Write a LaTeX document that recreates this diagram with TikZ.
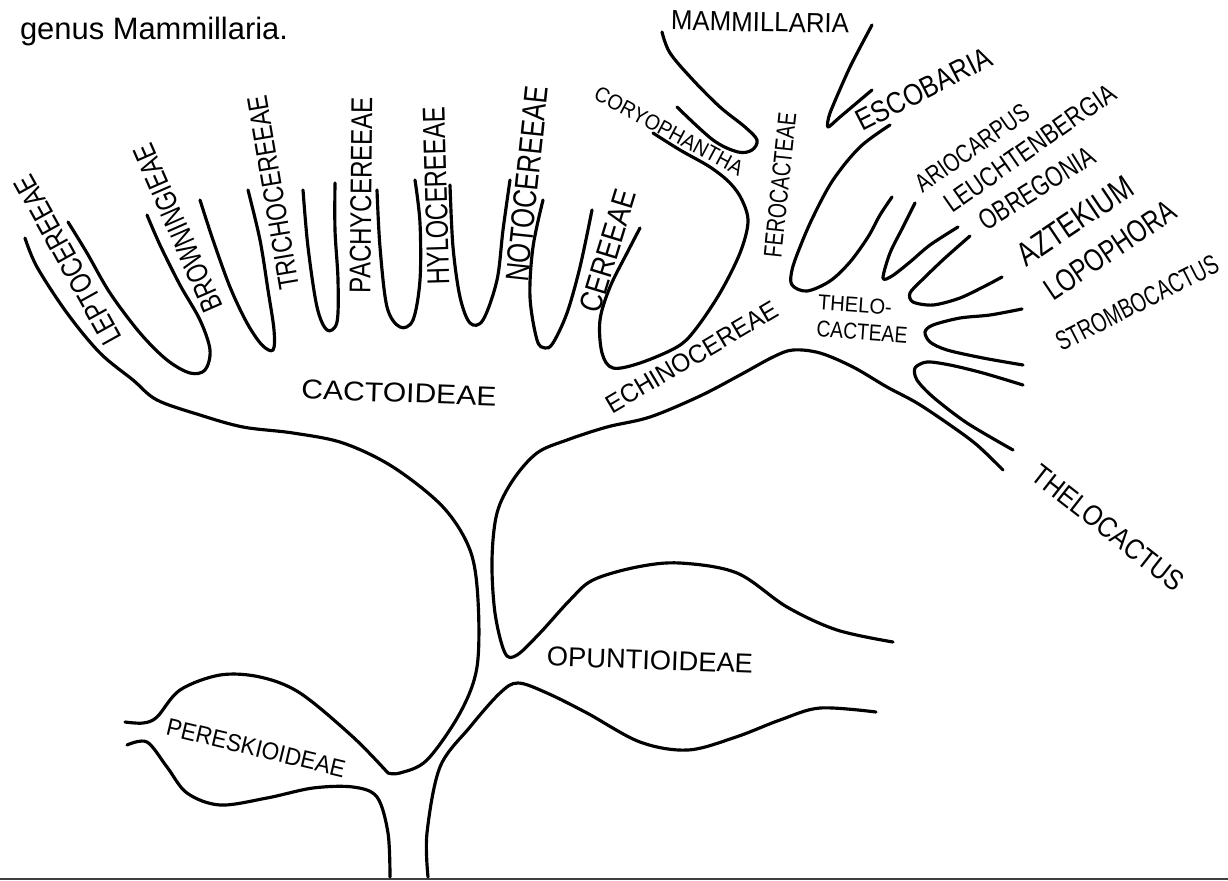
\documentclass[tikz,border=0pt]{standalone}
\usepackage{fontspec}
\setmainfont{Liberation Sans}
\usepackage{graphicx}
\newlength{\pxu}\setlength{\pxu}{0.02cm}
\newcommand{\hw}[3]{\resizebox{#1\pxu}{#2\pxu}{#3}}
\begin{document}
\begin{tikzpicture}[x=0.02cm,y=-0.02cm,
  br/.style={draw=black,line width=1.8pt,line cap=round,line join=round},
  lab/.style={inner sep=0pt,outer sep=0pt,text=black}]
\useasboundingbox (0,0) rectangle (1228,880);
\fill[white] (0,0) rectangle (1228,880);
% bottom rule
\draw[black!75,line width=1.3pt] (0,879) -- (1228,879);
% caption
\node[lab,anchor=base west,font=\fontsize{17.6pt}{20pt}\selectfont] (cap) at (20,39) {genus Mammillaria.};

% ---------- branches ----------
% Cactoideae lower edge down to Pereskioideae fork
\draw[br] plot[smooth,tension=0.55] coordinates {(25,238) (37,267) (67,313) (100,353) (133,380) (157,400) (200,415) (243,427) (293,433) (343,443) (393,467) (443,507) (470,550) (478,600) (477,667) (460,713) (427,760) (400,773) (388,773)};
% Pereskioideae upper edge
\draw[br] plot[smooth,tension=0.55] coordinates {(388,773) (353,737) (300,693) (260,677) (220,675) (180,690) (157,717) (143,723) (125,722)};
% Pereskioideae lower edge / trunk left
\draw[br] plot[smooth,tension=0.55] coordinates {(127,745) (147,742) (167,767) (187,793) (220,805) (267,798) (313,788) (353,787) (377,797) (388,833) (390,877)};
% trunk right / Opuntioideae lower
\draw[br] plot[smooth,tension=0.55] coordinates {(428,877) (427,833) (440,767) (470,727) (500,693) (518,683) (547,693) (587,713) (640,742) (688,750) (736,737) (780,720) (820,708) (876,712)};
% Opuntioideae upper / trunk / Echinocereeae lower / Thelocactus
\draw[br] plot[smooth,tension=0.55] coordinates {(893,642) (837,630) (787,607) (737,573) (680,563) (637,567) (593,580) (570,600) (540,633) (517,655) (505,653) (495,613) (492,560) (497,513) (513,480) (537,453) (567,440) (607,427) (650,417) (700,396) (740,375) (773,357) (793,350) (820,353) (853,367) (887,387) (917,403) (950,425) (977,445) (1003,470)};
% Cactoideae tribes hairpins
\draw[br] plot[smooth,tension=0.55] coordinates {(68,222) (87,253) (110,293) (140,333) (167,360) (190,373) (205,370) (210,350) (200,320) (180,285) (160,245) (147,215)};
\draw[br] plot[smooth,tension=0.55] coordinates {(200,200) (213,240) (230,287) (247,323) (262,345) (273,350) (274,330) (268,290) (260,240) (248,190)};
\draw[br] plot[smooth,tension=0.55] coordinates {(303,190) (308,247) (317,307) (327,330) (337,322) (338,280) (335,230) (335,183)};
\draw[br] plot[smooth,tension=0.55] coordinates {(377,190) (380,247) (387,307) (400,327) (413,320) (420,280) (420,223) (415,180)};
\draw[br] plot[smooth,tension=0.55] coordinates {(450,185) (453,247) (460,297) (470,323) (483,320) (497,280) (503,230) (510,180)};
\draw[br] plot[smooth,tension=0.55] coordinates {(543,200) (533,247) (530,297) (537,340) (545,348) (553,343) (567,313) (580,267) (592,210)};
% Cereeae / Coryphantha loop
\draw[br] plot[smooth,tension=0.55] coordinates {(640,228) (627,253) (610,287) (600,320) (602,353) (613,368) (640,363) (677,347) (695,330) (720,293) (740,253) (748,222) (742,200) (730,183) (710,167) (680,150) (653,133)};
% Coryphantha / Mammillaria
\draw[br] plot[smooth,tension=0.55] coordinates {(662,32) (670,53) (693,80) (720,107) (745,127) (757,140) (752,150) (738,152) (713,140) (677,107)};
% Mammillaria / Escobaria
\draw[br] plot[smooth,tension=0.4] coordinates {(872,25) (850,67) (830,113) (828,127) (840,117) (872,90)};
% Ferocacteae loop
\draw[br] plot[smooth,tension=0.55] coordinates {(890,125) (860,147) (833,180) (813,217) (800,247) (792,270) (792,285) (807,291) (830,281) (850,262) (868,237) (880,215) (892,197)};
% Thelocacteae hairpins
\draw[br] plot[smooth,tension=0.5] coordinates {(915,203) (903,227) (890,253) (883,278) (892,276) (910,262) (930,245) (958,227)};
\draw[br] plot[smooth,tension=0.5] coordinates {(970,236) (945,258) (922,280) (910,293) (913,302) (933,305) (960,298) (987,285) (1002,277)};
\draw[br] plot[smooth,tension=0.5] coordinates {(1022,309) (990,315) (960,318) (933,325) (925,332) (930,342) (947,350) (983,358) (1023,365)};
\draw[br] plot[smooth,tension=0.5] coordinates {(1023,385) (983,373) (950,365) (927,362) (915,368) (917,380) (933,397) (967,423) (1013,450)};

% ---------- labels ----------
\node[lab,rotate=119]   (lepto) at (68,260)  {\hw{189}{21}{LEPTOCEREEAE}};
\node[lab,rotate=113.6] (brown) at (178,228) {\hw{180}{21}{BROWNINGIEAE}};
\node[lab,rotate=99.7]  (trich) at (273,193) {\hw{196}{20}{TRICHOCEREEAE}};
\node[lab,rotate=89.4]  (pachy) at (361,195) {\hw{196}{21}{PACHYCEREEAE}};
\node[lab,rotate=91.6]  (hylo)  at (436,196) {\hw{178}{22}{HYLOCEREEAE}};
\node[lab,rotate=84]    (noto)  at (527,184) {\hw{196}{23}{NOTOCEREEAE}};
\node[lab,rotate=73]    (cere)  at (608,251) {\hw{127}{22}{CEREEAE}};
\node[lab,rotate=-28]   (cory)  at (669,131) {\hw{165}{15}{CORYOPHANTHA}};
\node[lab,rotate=-1]    (mamm)  at (760,22)  {\hw{178}{19}{MAMMILLARIA}};
\node[lab,rotate=84]    (fero)  at (780,185) {\hw{145}{18}{FEROCACTEAE}};
\node[lab,rotate=27]    (esco)  at (924,89)  {\hw{148}{21}{ESCOBARIA}};
\node[lab,rotate=35]    (ario)  at (972,148) {\hw{133}{18}{ARIOCARPUS}};
\node[lab,rotate=35]    (leuc)  at (1030,148) {\hw{202}{19}{LEUCHTENBERGIA}};
\node[lab,rotate=32]    (obre)  at (1037,188) {\hw{131}{20}{OBREGONIA}};
\node[lab,rotate=34]    (azte)  at (1075,221) {\hw{132}{23}{AZTEKIUM}};
\node[lab,rotate=34]    (lopo)  at (1110,250) {\hw{152}{22}{LOPOPHORA}};
\node[lab,rotate=27]    (stro)  at (1137,303) {\hw{179}{19}{STROMBOCACTUS}};
\node[lab,rotate=-38]   (thca)  at (1108,528) {\hw{185}{20}{THELOCACTUS}};
\node[lab,rotate=-4]    (the1)  at (855,305) {\hw{74}{15}{THELO-}};
\node[lab,rotate=-4]    (the2)  at (862,332) {\hw{91}{16}{CACTEAE}};
\node[lab,rotate=30.5]  (echi)  at (692,357) {\hw{195}{18}{ECHINOCEREAE}};
\node[lab,rotate=-2]    (cact)  at (399,393) {\hw{195}{19}{CACTOIDEAE}};
\node[lab,rotate=-2]    (opun)  at (650,660) {\hw{206}{19}{OPUNTIOIDEAE}};
\node[lab,rotate=-13.5] (pere)  at (256,748) {\hw{183}{17}{PERESKIOIDEAE}};
\end{tikzpicture}
\end{document}
